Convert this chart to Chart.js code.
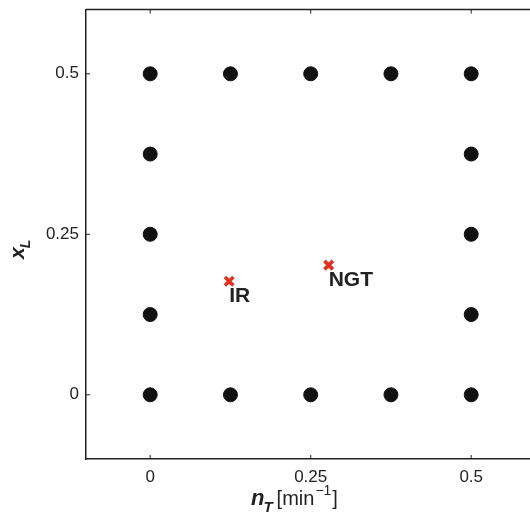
<!DOCTYPE html>
<html>
<head>
<meta charset="utf-8">
<script src="https://cdn.jsdelivr.net/npm/chart.js@4.4.0/dist/chart.umd.min.js"></script>
<style>
  html, body { margin: 0; padding: 0; background: #fff; overflow: hidden; }
  #wrap { width: 530px; height: 521px; overflow: hidden; }
</style>
</head>
<body>
<div id="wrap"><canvas id="chart" width="545" height="521"></canvas></div>
<script>
// design points (black dots)
const designX = [0, 0.125, 0.25, 0.375, 0.5, 0, 0.5, 0, 0.5, 0, 0.5, 0, 0.125, 0.25, 0.375, 0.5];
const designY = [0, 0, 0, 0, 0, 0.125, 0.125, 0.25, 0.25, 0.375, 0.375, 0.5, 0.5, 0.5, 0.5, 0.5];

// experimental conditions (red crosses)
const expNames = ['IR', 'NGT'];
const expX = [0.123, 0.278];
const expY = [0.177, 0.202];

const xTicks = [0, 0.25, 0.5];
const yTicks = [0, 0.25, 0.5];
const tickLabels = { 0: '0', 0.25: '0.25', 0.5: '0.5' };

const FONT = '"Liberation Sans", Arial, Helvetica, sans-serif';
const INK = '#222';

const framePlugin = {
    id: 'frame',
    afterDraw(chart) {
        const { ctx, chartArea: a, scales } = chart;
        ctx.save();
        ctx.strokeStyle = INK;
        ctx.lineWidth = 1.5;
        // top border
        ctx.beginPath();
        ctx.moveTo(a.left, a.top);
        ctx.lineTo(a.right, a.top);
        ctx.stroke();
        // inward ticks
        ctx.lineWidth = 1;
        ctx.beginPath();
        xTicks.forEach(v => {
            const px = scales.x.getPixelForValue(v);
            ctx.moveTo(px, a.bottom); ctx.lineTo(px, a.bottom - 4);
            ctx.moveTo(px, a.top); ctx.lineTo(px, a.top + 4);
        });
        yTicks.forEach(v => {
            const py = scales.y.getPixelForValue(v);
            ctx.moveTo(a.left, py); ctx.lineTo(a.left + 4, py);
        });
        ctx.stroke();

        // point labels next to the crosses
        const meta = chart.getDatasetMeta(1);
        ctx.fillStyle = INK;
        ctx.font = 'bold 21px ' + FONT;
        ctx.textBaseline = 'alphabetic';
        ctx.textAlign = 'left';
        meta.data.forEach((pt, i) => {
            ctx.fillText(expNames[i], pt.x, pt.y + 21);
        });

        // x axis title: n_T [min^-1]
        let x = 251;
        const by = 505;
        ctx.font = 'italic bold 22px ' + FONT;
        ctx.fillText('n', x, by);
        x += ctx.measureText('n').width;
        ctx.font = 'italic bold 15px ' + FONT;
        ctx.fillText('T', x - 1, by + 7);
        x += ctx.measureText('T').width + 3;
        ctx.font = '20px ' + FONT;
        ctx.fillText('[min', x, by);
        x += ctx.measureText('[min').width;
        ctx.font = '14px ' + FONT;
        ctx.fillText('\u22121', x + 1, by - 10);
        x += ctx.measureText('\u22121').width + 2;
        ctx.font = '20px ' + FONT;
        ctx.fillText(']', x, by);

        // y axis title: x_L (rotated)
        ctx.translate(24, 259);
        ctx.rotate(-Math.PI / 2);
        ctx.font = 'italic bold 21px ' + FONT;
        ctx.fillText('x', 0, 0);
        const w = ctx.measureText('x').width;
        ctx.font = 'italic bold 14px ' + FONT;
        ctx.fillText('L', w - 1, 6);
        ctx.restore();
    }
};

new Chart(document.getElementById('chart'), {
    type: 'scatter',
    data: {
        datasets: [
            {
                data: designX.map((v, i) => ({ x: v, y: designY[i] })),
                pointRadius: 7,
                pointHoverRadius: 7,
                backgroundColor: '#111',
                borderColor: '#111',
                borderWidth: 1
            },
            {
                data: expX.map((v, i) => ({ x: v, y: expY[i] })),
                pointStyle: 'crossRot',
                pointRadius: 6,
                pointHoverRadius: 6,
                borderColor: '#e0321f',
                borderWidth: 3.6
            }
        ]
    },
    options: {
        responsive: false,
        animation: false,
        events: [],
        layout: { padding: { top: 9.5, right: 6, left: 0, bottom: 0 } },
        plugins: { legend: { display: false }, tooltip: { enabled: false } },
        scales: {
            x: {
                type: 'linear',
                min: -0.1,
                max: 0.6,
                afterBuildTicks: s => { s.ticks = xTicks.map(v => ({ value: v })); },
                afterFit: s => { s.height = 62; s.paddingLeft = 0; s.paddingRight = 0; },
                grid: { drawOnChartArea: false, drawTicks: false },
                border: { display: true, color: INK, width: 1.5 },
                ticks: {
                    padding: 8,
                    color: INK,
                    font: { family: FONT, size: 17 },
                    callback: v => tickLabels[v]
                }
            },
            y: {
                type: 'linear',
                min: -0.1,
                max: 0.6,
                afterBuildTicks: s => { s.ticks = yTicks.map(v => ({ value: v })); },
                afterFit: s => { s.width = 86; s.paddingTop = 0; s.paddingBottom = 0; },
                grid: { drawOnChartArea: false, drawTicks: false },
                border: { display: true, color: INK, width: 1.5 },
                ticks: {
                    padding: 7,
                    color: INK,
                    font: { family: FONT, size: 17 },
                    callback: v => tickLabels[v]
                }
            }
        }
    },
    plugins: [framePlugin]
});
</script>
</body>
</html>
